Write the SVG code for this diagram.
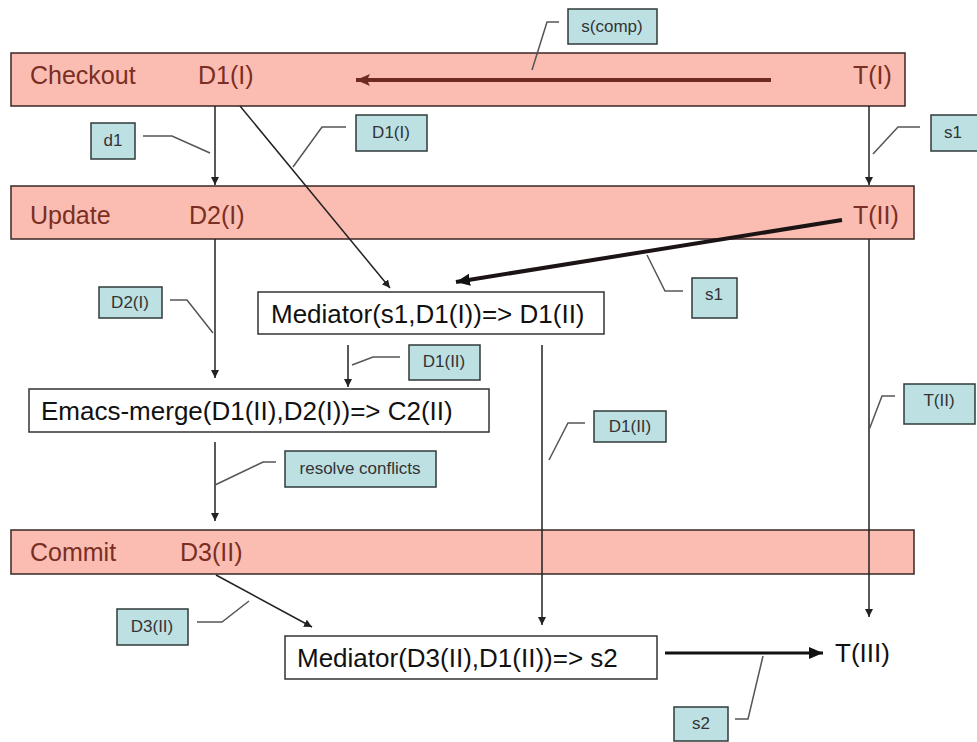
<svg xmlns="http://www.w3.org/2000/svg" width="977" height="742" viewBox="0 0 977 742">
<style>
.band{fill:#fbbdb1;stroke:#3a2626;stroke-width:1.5}
.btxt{font-family:"Liberation Sans",Arial,sans-serif;font-size:25px;fill:#7a2e24}
.box{fill:#ffffff;stroke:#333;stroke-width:1.5}
.mtxt{font-family:"Liberation Sans",Arial,sans-serif;font-size:26px;fill:#111}
.lbl{fill:#bde0e3;stroke:#2f3a3a;stroke-width:1.5}
.ltxt{font-family:"Liberation Sans",Arial,sans-serif;font-size:17px;fill:#333;text-anchor:middle}
.lead{fill:none;stroke:#555;stroke-width:1.5}
.thin{fill:none;stroke:#222;stroke-width:1.5}
</style>
<defs>
<marker id="ah" markerUnits="userSpaceOnUse" markerWidth="9" markerHeight="9" refX="8" refY="4" orient="auto"><path d="M0,0 L8,4 L0,8 z" fill="#222"/></marker>
<marker id="ahRed" markerUnits="userSpaceOnUse" markerWidth="15" markerHeight="13" refX="14" refY="6" orient="auto"><path d="M0,0 L14,6 L0,12 L3,6 z" fill="#6e2a20"/></marker>
<marker id="ahBig" markerUnits="userSpaceOnUse" markerWidth="15" markerHeight="13" refX="14" refY="6" orient="auto"><path d="M0,0 L14,6 L0,12 z" fill="#111"/></marker>
</defs>
<rect width="977" height="742" fill="#ffffff"/>

<g id="checkout">
<rect class="band" x="11" y="53" width="894" height="53"/>
<text class="btxt" x="30" y="84">Checkout</text>
<text class="btxt" x="198" y="84">D1(I)</text>
<text class="btxt" x="853" y="84">T(I)</text>
</g>
<g id="update">
<rect class="band" x="11" y="186" width="903" height="53"/>
<text class="btxt" x="30" y="224">Update</text>
<text class="btxt" x="189" y="224">D2(I)</text>
<text class="btxt" x="853" y="224">T(II)</text>
</g>
<g id="commit">
<rect class="band" x="11" y="530" width="903" height="44"/>
<text class="btxt" x="30" y="561">Commit</text>
<text class="btxt" x="180" y="561">D3(II)</text>
</g>
<g id="mediator1">
<rect class="box" x="258" y="292" width="346" height="42"/>
<text class="mtxt" x="271" y="323">Mediator(s1,D1(I))=&gt; D1(II)</text>
</g>
<g id="emacs-merge">
<rect class="box" x="29" y="389" width="460" height="43"/>
<text class="mtxt" x="41" y="420">Emacs-merge(D1(II),D2(I))=&gt; C2(II)</text>
</g>
<g id="mediator2">
<rect class="box" x="285" y="636" width="372" height="43"/>
<text class="mtxt" x="297" y="667">Mediator(D3(II),D1(II))=&gt; s2</text>
</g>
<g id="t3">
<text class="mtxt" x="835" y="662">T(III)</text>
</g>

<g id="connectors">
<line x1="771" y1="80" x2="356" y2="80" stroke="#6e2a20" stroke-width="4" marker-end="url(#ahRed)"/>
<line class="thin" x1="215" y1="106" x2="215" y2="185" marker-end="url(#ah)"/>
<line class="thin" x1="869" y1="106" x2="869" y2="185" marker-end="url(#ah)"/>
<line class="thin" x1="240" y1="106" x2="390" y2="288" marker-end="url(#ah)"/>
<line x1="842" y1="220" x2="456" y2="282" stroke="#1c1414" stroke-width="4" marker-end="url(#ahBig)"/>
<line class="thin" x1="215" y1="239" x2="215" y2="378" marker-end="url(#ah)"/>
<line class="thin" x1="348" y1="345" x2="348" y2="387" marker-end="url(#ah)"/>
<line class="thin" x1="215" y1="442" x2="215" y2="521" marker-end="url(#ah)"/>
<line class="thin" x1="542" y1="345" x2="542" y2="625" marker-end="url(#ah)"/>
<line class="thin" x1="869" y1="239" x2="869" y2="617" marker-end="url(#ah)"/>
<line class="thin" x1="216" y1="575" x2="312" y2="627" marker-end="url(#ah)"/>
<line x1="665" y1="653" x2="823" y2="653" stroke="#111" stroke-width="3" marker-end="url(#ahBig)"/>
</g>

<g id="label-scomp">
<rect class="lbl" x="568" y="9" width="89" height="35"/>
<text class="ltxt" x="612" y="32">s(comp)</text>
<polyline class="lead" points="559,22 547,22 532,70"/>
</g>
<g id="label-d1">
<rect class="lbl" x="91" y="123" width="44" height="36"/>
<text class="ltxt" x="113" y="146">d1</text>
<polyline class="lead" points="143,136 172,136 210,153"/>
</g>
<g id="label-d1i">
<rect class="lbl" x="356" y="115" width="71" height="36"/>
<text class="ltxt" x="391" y="138">D1(I)</text>
<polyline class="lead" points="346,127 322,127 293,167"/>
</g>
<g id="label-s1a">
<rect class="lbl" x="931" y="115" width="50" height="36"/>
<text class="ltxt" x="953" y="138">s1</text>
<polyline class="lead" points="920,127 898,127 873,154"/>
</g>
<g id="label-s1b">
<rect class="lbl" x="692" y="278" width="45" height="40"/>
<text class="ltxt" x="714" y="300">s1</text>
<polyline class="lead" points="683,291 665,291 647,255"/>
</g>
<g id="label-d2i">
<rect class="lbl" x="99" y="287" width="63" height="31"/>
<text class="ltxt" x="130" y="308">D2(I)</text>
<polyline class="lead" points="170,300 187,300 213,333"/>
</g>
<g id="label-d1ii-a">
<rect class="lbl" x="409" y="345" width="71" height="35"/>
<text class="ltxt" x="444" y="367">D1(II)</text>
<polyline class="lead" points="400,357 373,357 352,365"/>
</g>
<g id="label-resolve">
<rect class="lbl" x="285" y="451" width="151" height="36"/>
<text class="ltxt" x="360" y="474">resolve conflicts</text>
<polyline class="lead" points="276,462 263,462 215,485"/>
</g>
<g id="label-d1ii-b">
<rect class="lbl" x="594" y="411" width="72" height="31"/>
<text class="ltxt" x="630" y="432">D1(II)</text>
<polyline class="lead" points="585,423 568,423 549,460"/>
</g>
<g id="label-tii">
<rect class="lbl" x="904" y="384" width="71" height="40"/>
<text class="ltxt" x="939" y="406">T(II)</text>
<polyline class="lead" points="895,396 882,396 869,430"/>
</g>
<g id="label-d3ii">
<rect class="lbl" x="117" y="609" width="71" height="36"/>
<text class="ltxt" x="152" y="632">D3(II)</text>
<polyline class="lead" points="197,622 222,622 249,601"/>
</g>
<g id="label-s2">
<rect class="lbl" x="674" y="707" width="54" height="34"/>
<text class="ltxt" x="701" y="729">s2</text>
<polyline class="lead" points="735,719 748,719 763,656"/>
</g>
</svg>
